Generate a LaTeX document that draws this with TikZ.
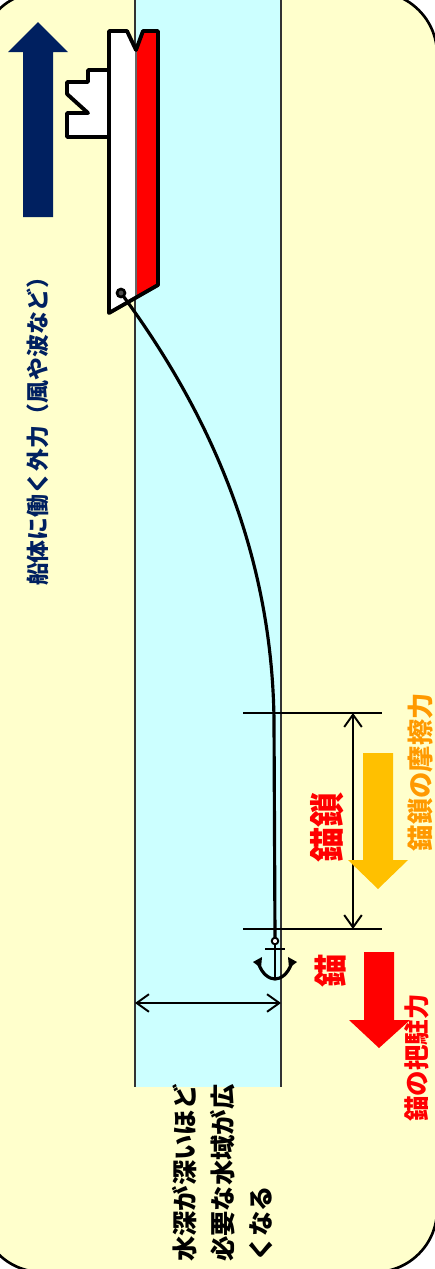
\documentclass[tikz,border=0pt]{standalone}
\usepackage{fontspec}
\newfontfamily\jp{Noto Sans CJK JP}
\usetikzlibrary{arrows.meta}
\definecolor{bgyellow}{HTML}{FFFFCC}
\definecolor{water}{HTML}{CCFFFF}
\definecolor{navy}{HTML}{002060}
\definecolor{amber}{HTML}{FFC000}
\definecolor{orangetext}{HTML}{FF9900}
\tikzset{
	jptext/.style={rotate=90, inner sep=0pt, font=\jp\bfseries},
	dim/.style={line width=1.1pt, {Straight Barb[length=7pt,width=10pt]}-{Straight Barb[length=7pt,width=10pt]}},
	hull/.style={line width=2.2pt, line join=round},
	bank/.style={line width=1.2pt, black!80},
}
\begin{document}
\begin{tikzpicture}[x=0.02cm, y=-0.02cm]
		\clip (0,0) rectangle (435,1269);
		\draw[line width=1.5pt, fill=bgyellow, rounded corners=1.24cm] (-20,-8) -- (437,-8) -- (437,1272) -- (-20,1272) -- cycle;
		% water column, surface on the left and sea bed on the right
		\fill[water] (135,-10) rectangle (281,1087);
		\draw[bank] (135,-10) -- (135,1087);
		\draw[bank] (281,-10) -- (281,1087);
		% external force on the hull
		\fill[navy] (23,217) -- (23,52) -- (8,52) -- (38,22) -- (68,52) -- (53,52) -- (53,217) -- cycle;
		\node[jptext, navy, font=\jp\bfseries\fontsize{13pt}{15pt}\selectfont] (force) at (38,426) {船体に働く外力（風や波など）};
		% ship
		\draw[hull, fill=white] (108,70) -- (88,70) -- (88,82) -- (67,82) -- (67,94) -- (88,113) -- (67,113) -- (67,137) -- (108,137);
		\fill[white] (109,31) -- (127,31) -- (136,50) -- (136,297) -- (109,313) -- cycle;
		\fill[red] (136,50) -- (143,31) -- (158,31) -- (158,285) -- (136,297) -- cycle;
		\draw[black!60, line width=0.6pt] (136,50) -- (136,297);
		\draw[hull] (109,31) -- (127,31) -- (136,50) -- (143,31) -- (158,31) -- (158,285) -- (109,313) -- cycle;
		% chain
		\coordinate (ring) at (121,293);
		\coordinate (shackle) at (275,938);
		\draw[line width=1.8pt] (ring) .. controls (215,420) and (272,560) .. (274,720) -- (shackle);
		\draw[line width=1.5pt, fill=black!70] (ring) circle (0.08cm);
		% anchor
		\draw[line width=1.1pt, fill=white] (275,941) circle (0.065cm);
		\draw[line width=1.4pt] (275,945) -- (275,978);
		\draw[line width=1.4pt] (265,949) -- (285,949);
		\draw[line width=1.8pt] (258,962) .. controls (262,975) and (270,979) .. (275,979) .. controls (280,979) and (288,975) .. (292,962);
		\fill (253,962) -- (262,957) -- (261,968) -- cycle;
		\fill (297,962) -- (288,957) -- (289,968) -- cycle;
		% chain length on the bed
		\foreach \y/\n in {713/top, 929/bot}
		{
			\draw[line width=1.1pt] (243,\y) -- (382,\y);
			\coordinate (chain\n) at (353,\y);
		}
		\draw[dim] (chaintop) -- (chainbot);
		\node[jptext, red, font=\jp\bfseries\fontsize{20pt}{22pt}\selectfont] (chainlbl) at (327,827) {錨鎖};
		\fill[amber] (363,753) -- (393,753) -- (393,860) -- (408,860) -- (378,889) -- (348,860) -- (363,860) -- cycle;
		\node[jptext, orangetext, font=\jp\bfseries\fontsize{15pt}{17pt}\selectfont] (friction) at (421,772) {錨鎖の摩擦力};
		% anchor holding power
		\node[jptext, red, font=\jp\bfseries\fontsize{19pt}{21pt}\selectfont] (anchorlbl) at (331,971) {錨};
		\fill[red] (364,952) -- (394,952) -- (394,1020) -- (410,1020) -- (379,1048) -- (349,1020) -- (364,1020) -- cycle;
		\node[jptext, red, font=\jp\bfseries\fontsize{14.5pt}{16pt}\selectfont] (holding) at (417,1058) {錨の把駐力};
		% depth
		\coordinate (surface) at (135,1003);
		\coordinate (bed) at (281,1003);
		\draw[dim] (surface) -- (bed);
		\node[jptext, anchor=north west, align=left, font=\jp\bfseries\fontsize{14.4pt}{21.6pt}\selectfont] (depth) at (172,1262) {水深が深いほど\\必要な水域が広\\くなる};
\end{tikzpicture}
\end{document}
